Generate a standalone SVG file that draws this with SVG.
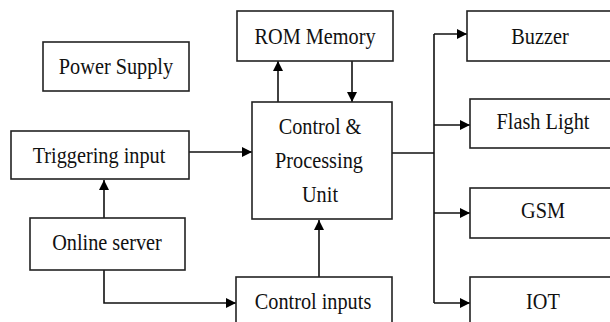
<svg xmlns="http://www.w3.org/2000/svg" width="610" height="322" viewBox="0 0 610 322">
<defs>
<marker id="ah" viewBox="0 0 10 10" refX="10" refY="5" markerWidth="11" markerHeight="10" markerUnits="userSpaceOnUse" orient="auto">
<path d="M0,0 L10,5 L0,10 Z" fill="#000"/>
</marker>
</defs>
<style>
.box{fill:#fff;stroke:#222;stroke-width:1.6}
.lbl{font-family:'Liberation Serif','Times New Roman',serif;font-size:24px;fill:#111;text-anchor:middle}
.c{fill:none;stroke:#111;stroke-width:1.6}
.a{marker-end:url(#ah)}
</style>
<rect width="610" height="322" fill="#fff"/>
<g id="connectors">
<path class="c a" d="M278,102 V61"/>
<path class="c a" d="M352,61 V102"/>
<path class="c a" d="M189,152 H252"/>
<path class="c a" d="M104,218 V180"/>
<path class="c a" d="M104,270 V303 H236"/>
<path class="c a" d="M319,277 V220"/>
<path class="c" d="M392,153 H434"/>
<path class="c" d="M434,34 V303"/>
<path class="c a" d="M434,34 H467"/>
<path class="c a" d="M434,125 H470"/>
<path class="c a" d="M434,213 H470"/>
<path class="c a" d="M434,303 H470"/>
</g>
<g id="power-supply">
<rect class="box" x="43" y="42" width="146" height="49"/>
<text class="lbl" transform="translate(116,74) scale(0.845,1)">Power Supply</text>
</g>
<g id="rom-memory">
<rect class="box" x="237" y="11" width="156" height="50"/>
<text class="lbl" transform="translate(315,44) scale(0.845,1)">ROM Memory</text>
</g>
<g id="control-processing">
<rect class="box" x="252" y="102" width="140" height="117"/>
<text class="lbl" transform="translate(320,134) scale(0.845,1)">Control &amp;</text>
<text class="lbl" transform="translate(319,168) scale(0.845,1)">Processing</text>
<text class="lbl" transform="translate(320,202) scale(0.845,1)">Unit</text>
</g>
<g id="triggering-input">
<rect class="box" x="11" y="131" width="178" height="48"/>
<text class="lbl" transform="translate(99,163) scale(0.845,1)">Triggering input</text>
</g>
<g id="online-server">
<rect class="box" x="30" y="218" width="155" height="52"/>
<text class="lbl" transform="translate(107,250) scale(0.845,1)">Online server</text>
</g>
<g id="control-inputs">
<rect class="box" x="236" y="277" width="156" height="60"/>
<text class="lbl" transform="translate(313,309) scale(0.845,1)">Control inputs</text>
</g>
<g id="buzzer">
<rect class="box" x="467" y="11" width="160" height="50"/>
<text class="lbl" transform="translate(540,44) scale(0.845,1)">Buzzer</text>
</g>
<g id="flash-light">
<rect class="box" x="470" y="99" width="160" height="49"/>
<text class="lbl" transform="translate(543,129) scale(0.845,1)">Flash Light</text>
</g>
<g id="gsm">
<rect class="box" x="470" y="188" width="160" height="50"/>
<text class="lbl" transform="translate(543,218) scale(0.845,1)">GSM</text>
</g>
<g id="iot">
<rect class="box" x="470" y="277" width="160" height="60"/>
<text class="lbl" transform="translate(543,309) scale(0.845,1)">IOT</text>
</g>
</svg>
